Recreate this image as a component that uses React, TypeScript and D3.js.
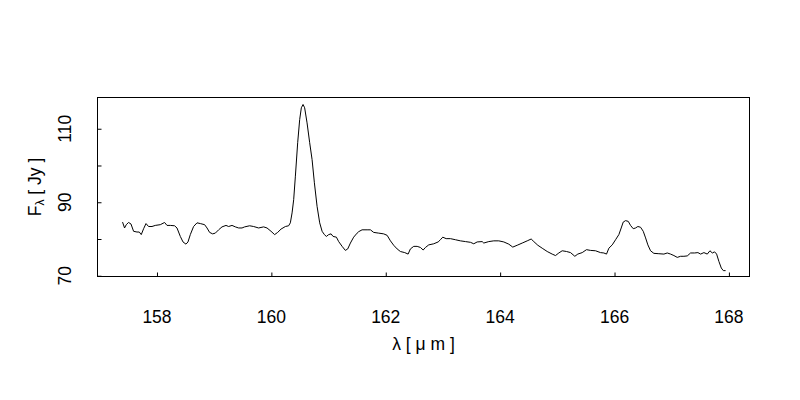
import React, { useEffect, useRef } from "react";
import * as d3 from "d3";

const wavelength = [
  157.398, 157.433, 157.463, 157.503, 157.545, 157.591, 157.65, 157.69, 157.725, 157.766,
  157.808, 157.853, 157.913, 157.97, 158.058, 158.133, 158.175, 158.233, 158.308, 158.35,
  158.408, 158.455, 158.507, 158.542, 158.583, 158.64, 158.7, 158.758, 158.833, 158.875,
  158.92, 158.973, 159.02, 159.078, 159.137, 159.207, 159.253, 159.312, 159.37, 159.428,
  159.487, 159.533, 159.62, 159.69, 159.777, 159.865, 159.924, 159.994, 160.057, 160.11,
  160.169, 160.245, 160.302, 160.332, 160.362, 160.39, 160.42, 160.46, 160.495, 160.524,
  160.554, 160.582, 160.624, 160.67, 160.712, 160.752, 160.799, 160.845, 160.887, 160.927,
  160.962, 161.002, 161.044, 161.079, 161.137, 161.177, 161.237, 161.294, 161.335, 161.382,
  161.439, 161.499, 161.527, 161.586, 161.674, 161.732, 161.789, 161.877, 161.964, 162.024,
  162.082, 162.139, 162.199, 162.256, 162.332, 162.391, 162.431, 162.489, 162.549, 162.606,
  162.654, 162.694, 162.752, 162.839, 162.916, 162.956, 162.997, 163.056, 163.131, 163.219,
  163.306, 163.394, 163.481, 163.539, 163.598, 163.686, 163.714, 163.801, 163.889, 163.976,
  164.064, 164.151, 164.221, 164.298, 164.386, 164.473, 164.543, 164.589, 164.659, 164.735,
  164.823, 164.91, 164.968, 165.026, 165.085, 165.161, 165.231, 165.306, 165.358, 165.435,
  165.51, 165.58, 165.668, 165.755, 165.813, 165.86, 165.901, 165.96, 166.018, 166.076,
  166.117, 166.152, 166.193, 166.24, 166.28, 166.327, 166.368, 166.408, 166.455, 166.502,
  166.543, 166.583, 166.63, 166.688, 166.775, 166.863, 166.922, 166.98, 167.038, 167.097,
  167.155, 167.213, 167.272, 167.33, 167.4, 167.458, 167.505, 167.563, 167.622, 167.668,
  167.71, 167.75, 167.785, 167.825, 167.867, 167.902, 167.942,
];

const flux = [
  84.6, 83.0, 83.9, 84.5, 84.1, 82.1, 81.9, 81.9, 81.2, 82.8,
  84.2, 83.4, 83.4, 83.7, 83.9, 84.5, 83.7, 83.7, 83.6, 83.0,
  80.7, 79.2, 78.6, 79.2, 81.2, 83.4, 84.4, 84.2, 83.9, 83.0,
  81.8, 81.4, 81.6, 82.5, 83.3, 83.7, 83.4, 83.7, 83.3, 83.0,
  83.0, 83.3, 83.6, 83.4, 83.0, 83.3, 83.0, 82.1, 81.2, 81.8,
  82.7, 83.4, 83.6, 84.4, 87.1, 90.7, 97.1, 106.2, 112.5, 115.7,
  116.6, 115.7, 111.6, 106.2, 101.6, 95.3, 88.9, 84.4, 82.1, 81.2,
  80.7, 81.2, 81.4, 80.7, 80.5, 79.3, 78.0, 76.9, 77.3, 78.9,
  80.5, 81.6, 82.0, 82.5, 82.5, 82.5, 81.8, 81.6, 81.4, 81.0,
  79.5, 78.3, 77.3, 76.6, 76.3, 75.9, 77.3, 78.0, 78.0, 77.7,
  77.0, 77.7, 78.4, 78.7, 79.2, 79.8, 80.5, 80.1, 80.1, 79.8,
  79.5, 79.3, 79.1, 78.7, 79.2, 79.3, 78.9, 79.3, 79.5, 79.5,
  79.2, 78.6, 77.8, 78.3, 78.9, 79.5, 80.0, 79.3, 78.3, 77.5,
  76.6, 75.9, 75.5, 76.2, 76.8, 76.6, 76.3, 75.3, 75.9, 76.3,
  77.1, 76.9, 76.8, 76.3, 76.2, 75.9, 77.5, 78.4, 79.8, 81.2,
  83.0, 84.6, 85.0, 84.8, 83.7, 82.8, 83.0, 83.4, 83.2, 82.1,
  80.3, 78.4, 76.8, 76.1, 76.0, 75.9, 76.2, 75.9, 75.5, 75.0,
  75.3, 75.3, 75.4, 76.2, 76.2, 76.3, 75.9, 76.3, 75.9, 76.8,
  76.2, 76.5, 75.9, 73.9, 72.1, 71.4, 71.4,
];

const xTicks = [158, 160, 162, 164, 166, 168];
const yTicks = [70, 80, 90, 100, 110];
const yTickLabels = [70, 90, 110];
const xDomain = [156.96, 168.36];
const yDomain = [69.8, 118.5];

const FONT = "'Liberation Sans', Arial, Helvetica, sans-serif";

export default function App() {
  const ref = useRef<SVGSVGElement>(null);

  useEffect(() => {
    const svg = d3.select(ref.current);
    svg.selectAll("*").remove();

    const left = 97.5, right = 749.5, top = 97.5, bottom = 276.5;
    const x = d3.scaleLinear().domain(xDomain).range([left, right]);
    const y = d3.scaleLinear().domain(yDomain).range([bottom, top]);

    const data = wavelength.map((w, i) => ({ w, f: flux[i] }));

    // spectrum line
    svg.append("path")
      .datum(data)
      .attr("fill", "none")
      .attr("stroke", "#000")
      .attr("stroke-width", 1)
      .attr("stroke-linejoin", "round")
      .attr("d", d3.line<{ w: number; f: number }>().x(d => x(d.w)).y(d => y(d.f)));

    // axes with inward ticks
    const gx = svg.append("g").attr("transform", `translate(0,${bottom})`)
      .call(d3.axisBottom(x).tickValues(xTicks).tickSizeInner(-4).tickSizeOuter(0).tickFormat(() => ""));
    gx.select(".domain").remove();
    gx.selectAll("line").attr("stroke", "#000");

    const gy = svg.append("g").attr("transform", `translate(${left},0)`)
      .call(d3.axisLeft(y).tickValues(yTicks).tickSizeInner(-4).tickSizeOuter(0).tickFormat(() => ""));
    gy.select(".domain").remove();
    gy.selectAll("line").attr("stroke", "#000");

    // box
    svg.append("rect")
      .attr("x", left).attr("y", top)
      .attr("width", right - left).attr("height", bottom - top)
      .attr("fill", "none").attr("stroke", "#000").attr("stroke-width", 1);

    // x tick labels
    svg.append("g").selectAll("text").data(xTicks).join("text")
      .attr("x", d => x(d)).attr("y", 323)
      .attr("text-anchor", "middle")
      .attr("font-family", FONT).attr("font-size", 17.5)
      .text(d => String(d));

    // y tick labels (rotated)
    svg.append("g").selectAll("text").data(yTickLabels).join("text")
      .attr("transform", d => `translate(70.5,${y(d)}) rotate(-90)`)
      .attr("text-anchor", "middle")
      .attr("font-family", FONT).attr("font-size", 17.5)
      .text(d => String(d));

    // x title
    svg.append("text")
      .attr("x", (left + right) / 2).attr("y", 350)
      .attr("text-anchor", "middle")
      .attr("font-family", FONT).attr("font-size", 17.5)
      .text("λ [ μ m ]");

    // y title
    const yt = svg.append("text")
      .attr("transform", `translate(40.5,${(top + bottom) / 2}) rotate(-90)`)
      .attr("text-anchor", "middle")
      .attr("font-family", FONT).attr("font-size", 17.5);
    yt.append("tspan").text("F");
    yt.append("tspan").attr("font-size", 12).attr("dy", 3).text("λ");
    yt.append("tspan").attr("dy", -3).text(" [ Jy ]");
  }, []);

  return (
    <svg
      ref={ref}
      width={800}
      height={400}
      style={{ position: "absolute", left: 0, top: 0, background: "#fff" }}
    />
  );
}
